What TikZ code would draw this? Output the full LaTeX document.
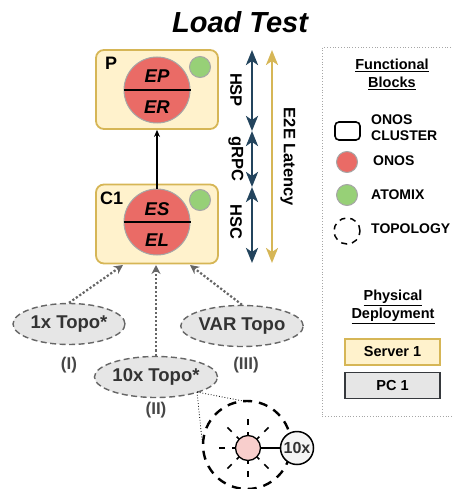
\documentclass[tikz,border=0pt]{standalone}
\usepackage{fontspec}
\setmainfont{Liberation Sans}
\usetikzlibrary{arrows.meta,shapes.geometric}
\definecolor{srvfill}{HTML}{FFF2CC}
\definecolor{srvline}{HTML}{D6B656}
\definecolor{onosred}{HTML}{EA6B66}
\definecolor{atomixgreen}{HTML}{97D077}
\definecolor{latblue}{HTML}{23445D}
\definecolor{topofill}{HTML}{E6E6E6}
\definecolor{topoline}{HTML}{666666}
\definecolor{pcline}{HTML}{36393D}
\definecolor{pinkfill}{HTML}{F8CECC}
\definecolor{txtgray}{HTML}{333333}
\begin{document}
\begin{tikzpicture}[x=1pt,y=-1pt,
  cluster/.style={draw=srvline,fill=srvfill,line width=1.8pt,rounded corners=8pt,
    minimum width=122pt,minimum height=79pt,inner sep=0pt},
  onos/.style={circle,draw=gray!70,fill=onosred,line width=1pt,minimum size=66pt,inner sep=0pt},
  atomix/.style={circle,draw=gray!70,fill=atomixgreen,line width=1pt,minimum size=21pt,inner sep=0pt},
  half/.style={font=\fontsize{18.5}{18.5}\selectfont\bfseries\itshape,inner sep=0pt},
  tag/.style={font=\fontsize{18}{18}\selectfont\bfseries,inner sep=0pt},
  latarrow/.style={line width=2.5pt,{Stealth[length=15pt,width=12pt,inset=4pt]}-{Stealth[length=15pt,width=12pt,inset=4pt]}},
  latlabel/.style={font=\fontsize{16.5}{16.5}\selectfont\bfseries,rotate=-90,inner sep=0pt},
  topo/.style={ellipse,draw=topoline,fill=topofill,line width=1.4pt,dash pattern=on 6pt off 3.5pt,
    minimum width=112pt,minimum height=41pt,inner sep=0pt,
    font=\fontsize{18.5}{18.5}\selectfont\bfseries,text=txtgray},
  roman/.style={font=\fontsize{17}{17}\selectfont\bfseries,text=txtgray!90,inner sep=0pt},
  feed/.style={draw=topoline,line width=2.2pt,dotted,-{Stealth[length=9pt,width=9pt]}},
  legtxt/.style={font=\fontsize{14}{16.5}\selectfont\bfseries,anchor=west,inner sep=0pt,align=left},
  leghead/.style={font=\fontsize{14.5}{18}\selectfont\bfseries,inner sep=0pt,align=center},
  hostbox/.style={line width=1.6pt,minimum width=95pt,minimum height=26pt,inner sep=0pt,
    font=\fontsize{14.5}{14.5}\selectfont\bfseries}
]
\useasboundingbox (0,0) rectangle (452,489);
\clip (0,0) rectangle (452,489);

% title
\node[font=\fontsize{29}{29}\selectfont\bfseries\itshape,inner sep=0pt] (title) at (240,22) {Load Test};

% cluster P
\node[cluster] (P) at (157,89.5) {};
\node[tag,anchor=west] (Plab) at (105,63) {P};
\node[onos] (Ponos) at (157,90) {};
\draw[line width=2pt] (Ponos.west) -- (Ponos.east);
\node[half] (EP) at (157,76) {EP};
\node[half] (ER) at (157,107) {ER};
\node[atomix] (Pat) at (200,67) {};

% cluster C1
\node[cluster] (C) at (157,224) {};
\node[tag,anchor=west] (Clab) at (100,198) {C1};
\node[onos] (Conos) at (157,222) {};
\draw[line width=2pt] (Conos.west) -- (Conos.east);
\node[half] (ES) at (157,209) {ES};
\node[half] (EL) at (157,240) {EL};
\node[atomix] (Cat) at (200,200) {};

% request path between the two clusters
\draw[line width=1.1pt,-{Stealth[length=7pt,width=6pt]}] (Conos.north) -- (P.south);

% latency arrows
\coordinate (b0) at (252,50);
\coordinate (b1) at (252,131);
\coordinate (b2) at (252,187);
\coordinate (b3) at (252,263);
\coordinate (g0) at (272,50);
\coordinate (g1) at (272,263);
\draw[latarrow,latblue] (b0) -- (b1);
\draw[latarrow,latblue] (b1) -- (b2);
\draw[latarrow,latblue] (b2) -- (b3);
\draw[latarrow,srvline,line width=2.2pt] (g0) -- (g1);
\node[latlabel] (hsp) at (236,90) {HSP};
\node[latlabel] (grpc) at (236,159) {gRPC};
\node[latlabel] (hsc) at (236,222) {HSC};
\node[latlabel] (e2e) at (288,157) {E2E Latency};

% topologies
\node[topo] (t1) at (69,324) {1x Topo*};
\node[topo] (t10) at (156,377) {10x Topo*};
\node[topo] (tv) at (242,326) {VAR Topo};
\node[roman] (r1) at (69,365) {(I)};
\node[roman] (r2) at (156,410) {(II)};
\node[roman] (r3) at (246,365) {(III)};
\coordinate (c1a) at (123,265);
\coordinate (c1b) at (156,265);
\coordinate (c1c) at (190,265);
\draw[feed] (t1.north) -- (c1a);
\draw[feed] (t10.north) -- (c1b);
\draw[feed] (tv.north) -- (c1c);

% detail of one topology
\coordinate (zoomfrom) at (197,392);
\node[circle,draw,line width=2.4pt,dash pattern=on 9pt off 7pt,minimum size=88pt,inner sep=0pt] (ring) at (247,445) {};
\coordinate (ringL) at (202,440);
\coordinate (ringT) at (243,401);
\draw[dotted,line width=0.8pt] (zoomfrom) -- (ringL);
\draw[dotted,line width=0.8pt] (zoomfrom) -- (ringT);
\node[circle,draw,line width=1.3pt,fill=pinkfill,minimum size=25pt,inner sep=0pt] (dev) at (248,448) {};
\foreach \a in {45,90,...,315}{
  \draw[line width=1.5pt] ([shift={(\a:12.5)}]dev.center) -- ([shift={(\a:16)}]dev.center);
  \draw[line width=1.5pt] ([shift={(\a:23)}]dev.center) -- ([shift={(\a:29)}]dev.center);
}
\node[circle,draw,line width=1.5pt,fill=gray!8,minimum size=33pt,inner sep=0pt,
  font=\fontsize{16}{16}\selectfont\bfseries,text=txtgray] (tenx) at (297,448) {10x};
\draw[line width=1.5pt] (dev.east) -- (tenx.west);

% legend
\node[draw=gray!70,dotted,line width=0.8pt,minimum width=150pt,minimum height=369pt,anchor=north west,inner sep=0pt] (legend) at (322,47) {};
\node[leghead] (fb) at (392,74) {\underline{Functional}\\\underline{Blocks}};
\node[draw,line width=1.6pt,rounded corners=4pt,minimum width=25pt,minimum height=18pt,inner sep=0pt] (lclu) at (347.5,131) {};
\node[legtxt] (lclut) at (371,127.5) {ONOS\\CLUSTER};
\node[onos,minimum size=21pt] (lonos) at (347,162) {};
\node[legtxt] (lonost) at (373,161) {ONOS};
\node[atomix,minimum size=21pt] (lat) at (347,195) {};
\node[legtxt] (latt) at (371,195) {ATOMIX};
\node[circle,draw,line width=1.5pt,dash pattern=on 6pt off 5pt,minimum size=26pt,inner sep=0pt] (ltopo) at (347,231) {};
\node[legtxt] (ltopot) at (371,229) {TOPOLOGY};
\node[leghead] (pd) at (393,307) {\underline{Physical}\\\underline{Deployment}};
\node[hostbox,draw=srvline,fill=srvfill] (srv) at (392.5,352) {Server 1};
\node[hostbox,draw=pcline,fill=topofill] (pc) at (392.5,385.5) {PC 1};
\end{tikzpicture}
\end{document}
